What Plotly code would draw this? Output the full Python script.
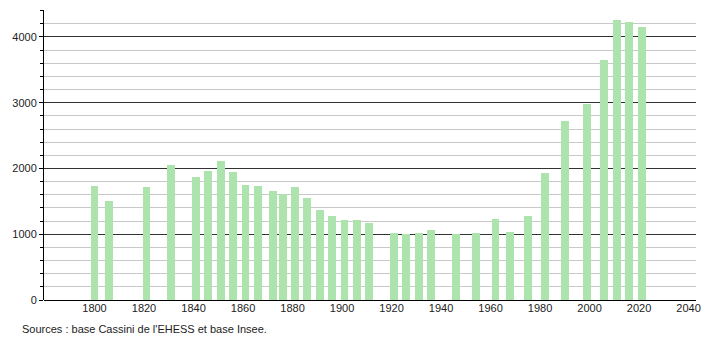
import plotly.graph_objects as go

years = [1800, 1806, 1821, 1831, 1841, 1846, 1851, 1856, 1861, 1866, 1872, 1876,
         1881, 1886, 1891, 1896, 1901, 1906, 1911, 1921, 1926, 1931, 1936, 1946,
         1954, 1962, 1968, 1975, 1982, 1990, 1999, 2006, 2011, 2016, 2021]
population = [1740, 1510, 1718, 2058, 1875, 1965, 2118, 1950, 1755, 1738, 1662, 1615,
              1718, 1555, 1372, 1280, 1220, 1222, 1173, 1020, 1005, 1020, 1066, 1005,
              1022, 1234, 1041, 1280, 1935, 2726, 2985, 3645, 4265, 4232, 4157]
x_ticks = [1800, 1820, 1840, 1860, 1880, 1900, 1920, 1940, 1960, 1980, 2000, 2020, 2040]
source_text = "Sources : base Cassini de l'EHESS et base Insee."

fig = go.Figure()
fig.add_trace(go.Bar(
    x=years, y=population, width=3.2,
    marker=dict(color="#ade3ad", line=dict(width=0)),
    hoverinfo="x+y",
))

fig.update_layout(
    width=710, height=340,
    margin=dict(l=44, r=9, t=10, b=40),
    paper_bgcolor="white", plot_bgcolor="white",
    font=dict(family="Liberation Sans, Arial, sans-serif", size=11, color="#222"),
    showlegend=False,
    bargap=0,
    xaxis=dict(
        range=[1779.6, 2043], tickmode="array", tickvals=x_ticks,
        showgrid=False, zeroline=False, ticks="", showline=False,
        tickfont=dict(size=11), fixedrange=True,
    ),
    yaxis=dict(
        range=[0, 4410], dtick=1000, tick0=0,
        showgrid=True, gridcolor="#333333", gridwidth=1,
        zeroline=True, zerolinecolor="#000000", zerolinewidth=1,
        showline=True, linecolor="#000000", linewidth=1,
        ticks="outside", ticklen=4, tickcolor="#000", tickwidth=1,
        minor=dict(dtick=200, showgrid=True, gridcolor="#c8c8c8", gridwidth=1,
                   ticks="outside", ticklen=3, tickcolor="#000"),
        tickfont=dict(size=11), fixedrange=True,
    ),
    annotations=[dict(
        text=source_text, xref="paper", yref="paper",
        x=-0.0365, y=-0.1, xanchor="left", yanchor="middle",
        showarrow=False, font=dict(size=11, color="#222"),
    )],
)

fig.write_html("out.html")
